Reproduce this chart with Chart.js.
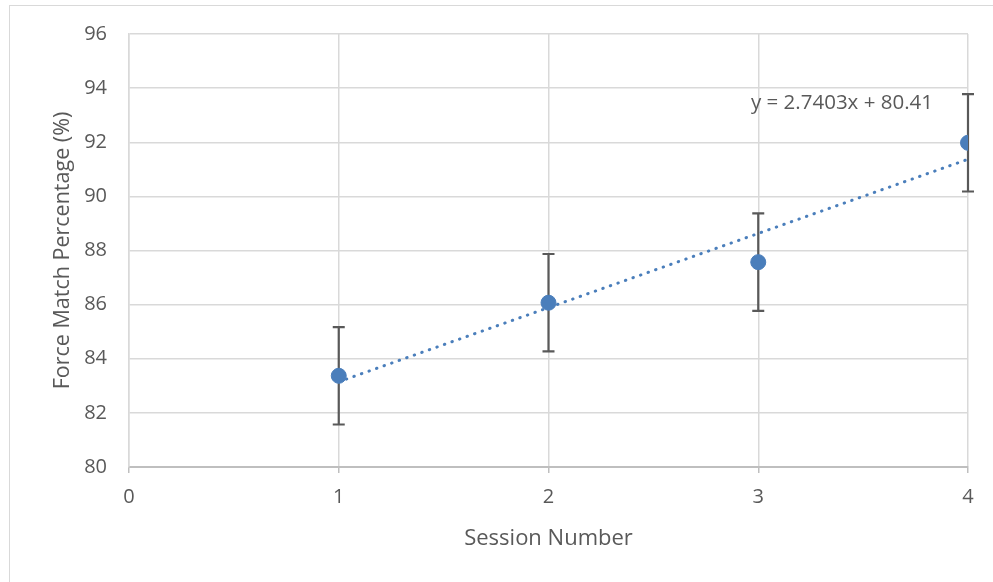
<!DOCTYPE html>
<html>
<head>
<meta charset="utf-8">
<script src="https://cdn.jsdelivr.net/npm/chart.js@4.4.1/dist/chart.umd.min.js"></script>
<style>
  html, body { margin: 0; padding: 0; background: #fff; }
  #wrap { position: relative; width: 993px; height: 582px; overflow: hidden; }
  #frame { position: absolute; left: 9px; top: 5px; width: 1000px; height: 600px;
           border-left: 1.5px solid #d9d9d9; border-top: 1.5px solid #d9d9d9; }
  #chart { position: absolute; left: 0; top: 0; }
</style>
</head>
<body>
<div id="wrap">
  <div id="frame"></div>
  <canvas id="chart" width="993" height="582"></canvas>
</div>
<script>
const sessions = [1, 2, 3, 4];
const matchPct = [83.37, 86.07, 87.57, 91.98];
const errBar = [1.8, 1.8, 1.8, 1.8];
const trendX = [1, 4];
const trendY = [83.15, 91.37];
const trendLabel = "y = 2.7403x + 80.41";
const trendLabelAt = { x: 3.833, y: 93.45 };

const TEXT = "#595959";
const FONT = "'Open Sans', 'DejaVu Sans', sans-serif";

// error bars under the markers, equation label on top
const errorBars = {
  id: "errorBars",
  beforeDatasetsDraw(chart) {
    const { ctx, scales: { x, y } } = chart;
    ctx.save();
    ctx.strokeStyle = "#595959";
    ctx.lineWidth = 2.2;
    sessions.forEach((s, i) => {
      const px = x.getPixelForValue(s);
      const top = y.getPixelForValue(matchPct[i] + errBar[i]);
      const bot = y.getPixelForValue(matchPct[i] - errBar[i]);
      ctx.beginPath();
      ctx.moveTo(px, top); ctx.lineTo(px, bot);
      ctx.moveTo(px - 6, top); ctx.lineTo(px + 6, top);
      ctx.moveTo(px - 6, bot); ctx.lineTo(px + 6, bot);
      ctx.stroke();
    });
    ctx.restore();
  },
  afterDatasetsDraw(chart) {
    const { ctx, scales: { x, y } } = chart;
    ctx.save();
    ctx.fillStyle = TEXT;
    ctx.font = "20.5px " + FONT;
    ctx.textAlign = "right";
    ctx.textBaseline = "middle";
    ctx.fillText(trendLabel, x.getPixelForValue(trendLabelAt.x), y.getPixelForValue(trendLabelAt.y));
    ctx.restore();
  }
};

new Chart(document.getElementById("chart"), {
  type: "scatter",
  data: {
    datasets: [
      {
        label: "Force match",
        data: sessions.map((s, i) => ({ x: s, y: matchPct[i] })),
        backgroundColor: "#4a7ebb",
        borderColor: "#4a7ebb",
        pointRadius: 7.5,
        pointHoverRadius: 7.5,
        order: 1,
      },
      {
        type: "line",
        label: "Linear trend",
        data: trendX.map((v, i) => ({ x: v, y: trendY[i] })),
        borderColor: "#4a7ebb",
        borderWidth: 3,
        borderDash: [0.5, 7.5],
        borderCapStyle: "round",
        pointRadius: 0,
        fill: false,
        order: 2,
      },
    ],
  },
  options: {
    responsive: false,
    animation: false,
    devicePixelRatio: 1,
    layout: { padding: { left: 50, top: 34, right: 25, bottom: 30 } },
    plugins: { legend: { display: false }, tooltip: { enabled: false } },
    scales: {
      x: {
        type: "linear",
        min: 0,
        max: 4,
        ticks: { stepSize: 1, color: TEXT, font: { family: FONT, size: 20 }, padding: 12 },
        grid: { color: "#d9d9d9", lineWidth: 1.5, tickColor: "#bfbfbf", tickLength: 6 },
        border: { color: "#bfbfbf", width: 2 },
        title: { display: true, text: "Session Number", color: TEXT, font: { family: FONT, size: 22 }, padding: { top: 4, bottom: 0 } },
        afterFit(scale) { scale.height = 85; },
      },
      y: {
        min: 80,
        max: 96,
        ticks: { stepSize: 2, color: TEXT, font: { family: FONT, size: 20 }, padding: 22 },
        grid: { color: "#d9d9d9", lineWidth: 1.5, drawTicks: false },
        border: { color: "#d9d9d9", width: 1.5 },
        title: { display: true, text: "Force Match Percentage (%)", color: TEXT, font: { family: FONT, size: 21.5 }, padding: 0 },
        afterFit(scale) { scale.width = 79; },
      },
    },
  },
  plugins: [errorBars],
});
</script>
</body>
</html>
